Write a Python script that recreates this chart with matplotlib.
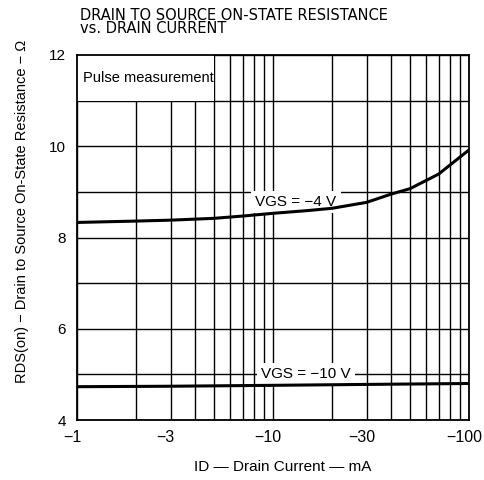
import numpy as np
import matplotlib
matplotlib.use("Agg")
import matplotlib.pyplot as plt
from matplotlib.ticker import FixedLocator, NullFormatter
from matplotlib.patches import Rectangle
from matplotlib.transforms import ScaledTranslation

# Data
id_4v = [1, 2, 3, 5, 7, 10, 15, 20, 30, 40, 50, 70, 100]
rds_4v = [8.33, 8.36, 8.38, 8.42, 8.47, 8.53, 8.59, 8.64, 8.77, 8.95, 9.07, 9.39, 9.92]
id_10v = [1, 3, 10, 30, 100]
rds_10v = [4.73, 4.74, 4.76, 4.78, 4.80]

xticks = [1, 3, 10, 30, 100]
xticklabels = ["\u22121", "\u22123", "\u221210", "\u221230", "\u2212100"]
yticks = [4, 6, 8, 10, 12]
yticklabels = ["4", "6", "8", "10", "12"]

plt.rcParams['font.family'] = ['Liberation Sans', 'DejaVu Sans']

fig = plt.figure(figsize=(4.84, 4.80), dpi=100)
ax = fig.add_axes([77/484, 1-420/480, (469-77)/484, (420-55)/480])

ax.set_xscale('log')
ax.set_xlim(1, 100)
ax.set_ylim(4, 12)

# grid
minor_x = [v * d for d in (1, 10) for v in range(2, 10)]
ax.xaxis.set_major_locator(FixedLocator(xticks))
ax.xaxis.set_minor_locator(FixedLocator(minor_x + [10]))
ax.xaxis.set_minor_formatter(NullFormatter())
ax.set_xticklabels(xticklabels)
ax.set_yticks(yticks)
ax.set_yticklabels(yticklabels)
ax.yaxis.set_minor_locator(FixedLocator([5, 7, 9, 11]))
ax.grid(True, which='both', color='black', linewidth=1.0)
ax.set_axisbelow(True)
ax.tick_params(which='both', length=0, pad=8)
ax.tick_params(axis='y', labelsize=11)
ax.tick_params(axis='x', labelsize=11.5, pad=7)
shift = ScaledTranslation(-0.05, 0, fig.dpi_scale_trans)
for lab in ax.get_xticklabels():
    lab.set_transform(lab.get_transform() + shift)

for s in ax.spines.values():
    s.set_linewidth(1.3)

# Pulse measurement box
ax.add_patch(Rectangle((1, 11), 4, 1, facecolor='white', edgecolor='none', zorder=1.5))
ax.text(1.07, 11.5, "Pulse measurement", fontsize=10.5, va='center', ha='left', zorder=3)

ax.plot(id_4v, rds_4v, color='black', linewidth=2.2, zorder=4, solid_capstyle='butt')
ax.plot(id_10v, rds_10v, color='black', linewidth=2.2, zorder=4, solid_capstyle='butt')

ax.text(13.1, 8.78, "VGS = \u22124 V", fontsize=11, ha='center', va='center', zorder=3,
        bbox=dict(facecolor='white', edgecolor='none', pad=3))
ax.text(14.7, 5.01, "VGS = \u221210 V", fontsize=11, ha='center', va='center', zorder=3,
        bbox=dict(facecolor='white', edgecolor='none', pad=3))

fig.text(80/484, 1-33/480, "DRAIN TO SOURCE ON-STATE RESISTANCE\nvs. DRAIN CURRENT",
         fontsize=10.5, family='DejaVu Sans', ha='left', va='baseline',
         linespacing=0.8, multialignment='left')

fig.text(22/484, 1-211/480, "RDS(on) \u2212 Drain to Source On-State Resistance \u2212 \u03a9",
         rotation=90, fontsize=10.5, ha='center', va='center')
fig.text(283/484, 1-467/480, "ID \u2014 Drain Current \u2014 mA", fontsize=11,
         ha='center', va='center')

fig.savefig("out.png", dpi=100)
